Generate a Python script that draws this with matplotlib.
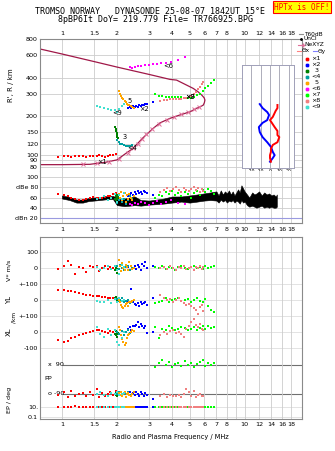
import matplotlib.pyplot as plt
from matplotlib.lines import Line2D
from matplotlib.ticker import NullLocator

# ---------------- data ----------------
freq_ticks = [1, 1.5, 2, 3, 4, 5, 6, 7, 8, 9, 10, 12, 14, 16, 18]
top_labels = ['1', '1.5', '2', '3', '4', '5', '6', '7', '8', '', '10', '12', '14', '16', '18']
mid_labels = ['1', '1.5', '2', '3', '4', '5', '6', '7', '8', '9', '10', '12', '14', '16', '18']

height_ticks = [80, 90, 100, 120, 150, 200, 300, 400, 600, 800]
amp_ticks = [20, 40, 60, 80, 100]
amp_labels = ['dBn 20', '40', '60', 'dBe 80', '100']
noise_db = 20

# model / profile curve (MHz, km)
curve_f = [0.76, 1.0, 1.5, 2.0, 3.0, 3.9, 4.24, 4.7, 5.23, 5.55, 5.82, 6.0, 6.06, 6.02, 5.94,
           5.7, 5.46, 5.02, 4.42, 3.9, 3.44, 3.15, 2.77, 2.45, 2.21, 2.0, 1.72, 1.42, 1.0, 0.76]
curve_h = [668, 611, 533, 483, 423, 387, 382, 355, 329, 310, 292, 278, 267, 255, 244,
           236, 230, 216, 204, 192, 177, 160, 135, 112, 101, 91, 87, 84, 83.5, 83.5]
ne_f = [1.3, 1.55, 1.8, 2.05, 2.3, 2.45, 2.6, 2.75, 2.9, 3.1, 3.4, 3.75, 4.1, 4.5, 4.9, 5.3, 5.6]
ne_h = [85, 86, 88, 92, 103, 112, 122, 133, 146, 158, 172, 186, 197, 206, 215, 226, 236]

# echo groups: frequency, height, amplitude, V*, YL, XL, PP, EP
f1 = [0.95, 1.02, 1.08, 1.12, 1.18, 1.24, 1.3, 1.36, 1.42, 1.48, 1.55, 1.6, 1.66, 1.72, 1.78, 1.84, 1.9, 1.97]
h1 = [96, 97, 98, 96, 97, 98, 97, 96, 97, 98, 97, 99, 97, 96, 98, 99, 100, 102]
a1 = [66, 64, 62, 60, 57, 55, 56, 58, 60, 61, 60, 59, 60, 61, 62, 63, 66, 68]
v1 = [-5, 10, 45, 20, -40, 5, 0, -25, 10, 5, 15, -20, 0, 10, -5, 5, 0, 15]
yl1 = [65, 62, 58, 55, 50, 45, 40, 33, 30, 28, 25, 22, 20, 18, 15, 14, 12, 10]
xl1 = [-50, -62, -55, -40, -30, -20, -10, -5, 0, 5, 10, 12, 5, 0, -5, 5, 0, -10]
pp1 = [-95, -80, -110, -70, -100, -90, -85, -105, -75, -95, -60, -110, -85, -100, -90, -80, -95, -70]
ep1 = [10, 12, 8, 10, 14, 9, 10, 11, 8, 10, 12, 9, 10, 8, 11, 10, 9, 12]

f2 = [2.3, 2.35, 2.4, 2.45, 2.5, 2.55, 2.6, 2.65, 2.7, 2.75, 2.8, 2.85, 2.92, 3.15]
h2 = [232, 236, 230, 238, 235, 240, 236, 242, 238, 245, 244, 248, 250, 258]
a2 = [62, 65, 68, 64, 70, 66, 72, 68, 70, 66, 72, 70, 68, 64]
v2 = [5, -10, 15, 0, 10, -5, 20, 5, -15, 25, 10, 40, 0, 15]
yl2 = [-10, -20, 70, -15, -25, -30, -20, -35, -10, -25, -20, -15, -30, 10]
xl2 = [20, 30, 15, 40, 35, 45, 60, 30, 50, 40, 25, 35, -5, 0]
pp2 = [-90, -80, -100, -85, -95, -75, -90, -100, -80, -90, -105, -85, -95, -120]
ep2 = [10, 9, 11, 10, 12, 10, 9, 11, 10, 8, 10, 12, 10, 9]

f3 = [1.96, 1.97, 1.98, 1.99, 2.0, 2.01, 2.03]
h3 = [165, 158, 152, 147, 142, 138, 134]
a3 = [58, 62, 55, 60, 64, 57, 61]
v3 = [-10, 5, 0, 15, -30, 10, -5]
yl3 = [15, 10, 20, 5, -10, 0, 8]
xl3 = [-10, -20, 5, -15, -30, 0, -5]
pp3 = [-90, -85, -95, -80, -100, -90, -88]
ep3 = [10, 11, 9, 10, 12, 10, 9]

f4 = [2.0, 2.04, 2.08, 2.12, 2.18, 2.24, 2.3, 2.36, 2.42]
h4 = [130, 126, 122, 120, 118, 117, 116, 117, 118]
a4 = [50, 55, 60, 52, 58, 48, 55, 62, 57]
v4 = [10, -5, 20, 0, -15, 5, 10, -10, 0]
yl4 = [5, -5, 0, 10, -15, -5, 0, -20, -10]
xl4 = [0, -10, 10, 5, -20, 0, 15, -5, 10]
pp4 = [-90, -80, -95, -100, -85, -90, -75, -95, -88]
ep4 = [10, 9, 11, 10, 12, 10, 9, 11, 10]

f5 = [2.05, 2.07, 2.1, 2.13, 2.16, 2.2, 2.23, 2.26, 2.3, 2.34, 2.38, 2.43, 2.48]
h5 = [315, 300, 288, 278, 270, 262, 256, 250, 246, 242, 238, 235, 232]
a5 = [66, 60, 70, 55, 62, 68, 52, 64, 58, 66, 60, 55, 62]
v5 = [50, 10, -20, 30, 0, -10, 20, 5, -15, 35, 10, -5, 0]
yl5 = [0, -15, -30, -45, -50, -35, -25, -20, -40, -10, -15, -5, 0]
xl5 = [30, 10, -20, -45, -60, -80, -70, -40, -20, -10, 0, 10, 5]
pp5 = [-85, -95, -75, -100, -90, -80, -110, -90, -85, -95, -100, -90, -80]
ep5 = [10, 11, 9, 10, 12, 10, 8, 10, 11, 9, 10, 12, 10]

f6 = [2.35, 2.42, 2.5, 2.6, 2.72, 2.85, 3.0, 3.15, 3.3, 3.5, 3.7, 3.95, 4.3, 4.7]
h6 = [480, 478, 485, 490, 495, 500, 505, 510, 512, 515, 518, 525, 545, 575]
a6 = [48, 46, 50, 47, 52, 49, 45, 50, 53, 48, 52, 55, 50, 48]

f7 = [3.25, 3.4, 3.55, 3.7, 3.85, 4.0, 4.15, 4.3, 4.5, 4.7, 4.9, 5.1, 5.3, 5.5, 5.7, 5.9, 6.1, 6.3, 6.55, 6.8]
h7 = [300, 288, 285, 284, 283, 282, 281, 280, 280, 278, 277, 278, 282, 290, 300, 315, 330, 345, 365, 385]
a7 = [60, 65, 62, 70, 66, 72, 64, 68, 62, 70, 66, 60, 68, 72, 65, 74, 70, 76, 72, 66]
v7 = [5, 0, 10, -5, 5, 0, -10, 5, 10, 0, -5, 5, 10, 0, 5, -5, 10, 0, 5, 15]
yl7 = [-20, -10, -5, 10, -15, 0, 5, 10, -5, 0, 5, -10, 0, 10, -5, -15, 5, -40, -60, -75]
xl7 = [30, -40, 20, 10, 35, 25, 15, 20, 30, 25, 10, 20, 30, 15, 25, 35, 20, 40, 25, 30]
pp7 = [80, 100, 120, 90, 110, 75, 95, 105, 85, 115, 90, 100, 80, 95, 110, 120, 85, 100, 90, 105]
ep7 = [10, 9, 11, 10, 12, 10, 9, 11, 10, 8, 10, 12, 10, 9, 11, 10, 12, 9, 10, 11]

f8 = [3.45, 3.6, 3.75, 3.9, 4.05, 4.2, 4.35, 4.5, 4.65, 4.8, 4.95, 5.1, 5.25, 5.4, 5.55, 5.7, 5.85, 5.95]
h8 = [262, 266, 268, 270, 272, 272, 273, 274, 275, 276, 280, 288, 298, 310, 325, 340, 355, 370]
a8 = [70, 74, 78, 72, 76, 80, 74, 70, 78, 75, 72, 76, 80, 74, 78, 70, 76, 72]
v8 = [0, 5, -5, 10, 0, -10, 5, 0, 10, -5, 0, 5, -10, 5, 0, 10, -5, 5]
yl8 = [30, 10, 0, 5, -10, 0, 10, -5, -20, -30, -25, -40, -50, -60, -90, -45, -30, -70]
xl8 = [-20, 0, -10, 5, 10, -5, 0, -15, -30, 20, 40, 60, 80, 45, 30, 50, 20, 10]
pp8 = [-100, -90, -110, -95, -105, -100, -95, -110, -90, -60, -80, -100, -70, -110, -95, -90, -105, -100]
ep8 = [10, 9, 8, 10, 9, 10, 11, 9, 10, 8, 10, 9, 10, 11, 9, 10, 8, 10]

f9 = [1.55, 1.62, 1.7, 1.78, 1.86, 1.94, 2.0, 2.06, 2.12, 2.18]
h9 = [240, 236, 230, 226, 224, 222, 216, 228, 238, 248]
a9 = [58, 60, 62, 56, 60, 66, 52, 64, 58, 68]
v9 = [5, -10, 0, 15, -5, 10, -15, -40, 20, 5]
yl9 = [-5, -15, -10, 0, -20, 5, -10, 10, -5, 0]
xl9 = [30, -10, -30, 20, -20, 10, -60, -80, -40, 0]
pp9 = [-90, -80, -95, -100, -85, -90, -75, -95, -90, -85]
ep9 = [10, 11, 9, 10, 12, 10, 9, 10, 11, 10]

# unclassified amplitude trace (black)
blk_f = [1.0, 1.1, 1.2, 1.3, 1.4, 1.5, 1.6, 1.7, 1.8, 1.9,
         2.0, 2.1, 2.2, 2.35, 2.5, 2.7, 3.0, 3.3, 3.6, 4.0,
         4.5, 5.0, 5.5, 6.0, 6.5, 7.0, 7.2, 7.4, 7.6, 7.8,
         8.0, 8.2, 8.4, 8.6, 8.8, 9.0, 9.2, 9.4, 9.6, 9.8,
         10.0, 10.3, 10.6, 11.0, 11.3, 11.6, 12.0, 12.4, 12.8, 13.2,
         13.6, 14.0, 14.4, 14.8, 15.0]
blk_lo = [58, 55, 50, 50, 53, 54, 55, 56, 57, 57,
          45, 44, 43, 44, 45, 44, 46, 47, 48, 50,
          52, 50, 52, 54, 55, 54, 50, 56, 52, 55,
          50, 54, 52, 55, 50, 54, 52, 48, 55, 50,
          52, 45, 42, 44, 42, 40, 42, 44, 40, 42,
          40, 42, 40, 40, 42]
blk_hi = [64, 61, 56, 56, 59, 60, 61, 62, 63, 63,
          60, 56, 58, 60, 62, 55, 54, 56, 58, 62,
          62, 64, 66, 68, 70, 72, 64, 74, 66, 72,
          68, 74, 66, 72, 64, 70, 76, 70, 84, 78,
          72, 66, 60, 70, 66, 68, 72, 64, 70, 66,
          68, 64, 66, 62, 66]

# tilt profiles (deg vs km)
thx_h = [244, 231, 219, 197, 186, 177, 164, 153, 142, 137, 125, 119, 111, 105, 99, 94, 88]
thx = [8, 8, 6, 3, 0, 2, 5, 8, 8, 10, 8, 3, 1, 1, 0, 0, 1]
thy_h = [248, 231, 215, 204, 186, 177, 164, 150, 137, 125, 115, 105, 99, 94, 88]
thy = [-11, -8, -3, -1, -3, -8, -12, -11, -8, -3, 1, 3, 5, 3, 0]

colors = ['#ff0000', '#0000ff', '#008000', '#00a0a0', '#ffa500',
          '#ff00ff', '#00ff00', '#f08080', '#40e0d0']
echo_names = ['\u00d71', '\u00d72', '  3', '<4', '  5', '<6', '\u00d77', '\u00d78', '<9']

# ---------------- figure ----------------
W, H = 335, 451
fig = plt.figure(figsize=(W / 100, H / 100), dpi=100)
plt.rcParams['font.family'] = 'DejaVu Sans'
grid_c = '#cccccc'
frame_c = '#8a8a8a'
fs = 4.6


def box(x0, y0, x1, y1):
    return [x0 / W, 1 - y1 / H, (x1 - x0) / W, (y1 - y0) / H]


def ftext(x, y, s, **kw):
    kw.setdefault('fontsize', fs)
    return fig.text(x / W, 1 - y / H, s, **kw)


def freq_axis(ax, labels):
    ax.set_xscale('log')
    ax.set_xlim(0.758, 20.6)
    ax.set_xticks(freq_ticks)
    ax.set_xticklabels(labels, fontsize=fs)
    ax.xaxis.set_minor_locator(NullLocator())
    ax.tick_params(length=0)
    ax.grid(True, axis='x', color=grid_c, lw=0.6)
    ax.set_axisbelow(True)
    for s in ax.spines.values():
        s.set_color(frame_c)
        s.set_linewidth(0.8)


def lin_lim(v0, r0, v1, r1, top=237, bot=419):
    k = (v1 - v0) / (r1 - r0)
    return v0 + (bot - r0) * k, v0 + (top - r0) * k


# --- heights panel ---
ax_h = fig.add_axes(box(40, 39, 302, 171))
freq_axis(ax_h, top_labels)
ax_h.xaxis.tick_top()
ax_h.tick_params(axis='x', pad=2)
ax_h.set_yscale('log')
ax_h.set_ylim(74.5, 800)
ax_h.set_yticks(height_ticks)
ax_h.set_yticklabels([str(t) for t in height_ticks], fontsize=fs)
ax_h.yaxis.set_minor_locator(NullLocator())
ax_h.tick_params(axis='y', pad=1.5)
ax_h.grid(True, axis='y', color=grid_c, lw=0.6)
ax_h.spines['bottom'].set_visible(False)

ax_h.plot(curve_f, curve_h, color='#a01848', lw=0.9)
ax_h.plot(ne_f, ne_h, ls='none', marker='x', ms=2.2, mew=0.7, color='#e0709a')

groups_h = [(f1, h1), (f2, h2), (f3, h3), (f4, h4), (f5, h5), (f6, h6), (f7, h7), (f8, h8), (f9, h9)]
for (f, h), c in zip(groups_h, colors):
    ax_h.scatter(f, h, s=4, marker='s', color=c, linewidths=0, zorder=3)

lab_f = [1.65, 2.8, 2.2, 2.42, 2.33, 3.8, 5.0, 5.05, 2.0]
lab_h = [88, 229, 137, 112, 262, 490, 282, 282, 212]
for lf, lh, name in zip(lab_f, lab_h, echo_names):
    ax_h.text(lf, lh, name.strip(), fontsize=4.8, ha='center', va='center', zorder=4)

ftext(11, 85, "R', R / km", rotation=90, ha='center', va='center', fontsize=5)

# --- tilt inset ---
ax_t = fig.add_axes(box(242, 65, 294, 168))
ax_t.set_facecolor('white')
ax_t.set_xlim(-30.1, 25.8)
ax_t.set_yscale('log')
ax_t.set_ylim(78.6, 501)
ax_t.set_yticks([])
ax_t.yaxis.set_minor_locator(NullLocator())
ax_t.set_xticks([-20, -10, 0, 10, 20])
ax_t.set_xticklabels(['-20', '-10', '0', '10', '20'], fontsize=3.3)
ax_t.tick_params(length=0, pad=1)
ax_t.grid(True, axis='x', color='#a0a0b0', lw=0.6)
for s in ax_t.spines.values():
    s.set_color('#a0a0b8')
    s.set_linewidth(0.7)
ax_t.plot(thy, thy_h, color='#0000ff', lw=1.4)
ax_t.plot(thx, thx_h, color='#ff0000', lw=1.4)
ax_t.set_xlabel('Tilt / deg', fontsize=3.5, labelpad=0)

# --- amplitude panel ---
ax_a = fig.add_axes(box(40, 171, 302, 223))
freq_axis(ax_a, mid_labels)
ax_a.tick_params(axis='x', pad=3)
ax_a.set_ylim(10, 112)
ax_a.set_yticks(amp_ticks)
ax_a.set_yticklabels(amp_labels, fontsize=fs)
ax_a.tick_params(axis='y', pad=1.5)
ax_a.grid(True, axis='y', color=grid_c, lw=0.6)
ax_a.spines['top'].set_visible(False)
ax_a.axhline(noise_db, color='#9a9ae0', lw=0.8)
ax_a.fill_between(blk_f, blk_lo, blk_hi, color='black', lw=0.4)
groups_a = [(f1, a1), (f2, a2), (f3, a3), (f4, a4), (f5, a5), (f6, a6), (f7, a7), (f8, a8), (f9, a9)]
for (f, a), c in zip(groups_a, colors):
    ax_a.scatter(f, a, s=4, marker='s', color=c, linewidths=0, zorder=3)

# --- lower panel (V*, YL, XL, PP, EP) ---
ax_b = fig.add_axes(box(40, 237, 302, 419))
freq_axis(ax_b, top_labels)
ax_b.tick_params(axis='x', pad=2)
ax_b.set_ylim(419, 237)
rows = [252, 268, 284, 300, 316, 332, 348, 407, 417]
row_labels = ['100', '0', '+-100', '0', '+-100', '0', '-100', '10.', '0.1']
ax_b.set_yticks(rows)
ax_b.set_yticklabels(row_labels, fontsize=fs)
ax_b.tick_params(axis='y', pad=1.5)
for r in rows:
    ax_b.axhline(r, color='#dedede', lw=0.6, zorder=0)
pp_rows = [365, 394]
ax_b.hlines(pp_rows, 1.0, 20.6, color='#707070', lw=0.8, zorder=0)
ax_b.text(0.84, 365, 'x  90', fontsize=fs, va='center', ha='left')
ax_b.text(0.84, 394, 'o -90', fontsize=fs, va='center', ha='left')
ax_b.text(0.8, 379, 'PP', fontsize=fs, va='center', ha='left')


def overlay(lim, log=False):
    o = fig.add_axes(ax_b.get_position(), sharex=ax_b)
    o.axis('off')
    if log:
        o.set_yscale('log')
    o.set_ylim(*lim)
    return o


ax_v = overlay(lin_lim(0, 268, 100, 252))
ax_yl = overlay(lin_lim(0, 300, 100, 284))
ax_xl = overlay(lin_lim(0, 332, 100, 316))
ax_pp = overlay(lin_lim(90, 365, -90, 394))
ax_ep = overlay((10 ** (1 - 12 / 5), 10 ** (1 + 170 / 5)), log=True)

lower = [(f1, v1, yl1, xl1, pp1, ep1, colors[0]),
         (f2, v2, yl2, xl2, pp2, ep2, colors[1]),
         (f3, v3, yl3, xl3, pp3, ep3, colors[2]),
         (f4, v4, yl4, xl4, pp4, ep4, colors[3]),
         (f5, v5, yl5, xl5, pp5, ep5, colors[4]),
         (f7, v7, yl7, xl7, pp7, ep7, colors[6]),
         (f8, v8, yl8, xl8, pp8, ep8, colors[7]),
         (f9, v9, yl9, xl9, pp9, ep9, colors[8])]
for f, v, yl, xl, pp, ep, c in lower:
    for ax, vals in ((ax_v, v), (ax_yl, yl), (ax_xl, xl), (ax_pp, pp), (ax_ep, ep)):
        ax.scatter(f, vals, s=4, marker='s', color=c, linewidths=0)

ftext(9, 270, 'V* m/s', rotation=90, ha='center', va='center', fontsize=4.6)
ftext(9, 300, 'YL', rotation=90, ha='center', va='center', fontsize=5)
ftext(14, 317, '/km', rotation=90, ha='center', va='center', fontsize=4.2)
ftext(9, 332, 'XL', rotation=90, ha='center', va='center', fontsize=5)
ftext(9, 400, 'EP / deg', rotation=90, ha='center', va='center', fontsize=4.6)
ftext(170, 437, 'Radio and Plasma Frequency / MHz', ha='center', va='center', fontsize=4.8)

# --- titles ---
ftext(150, 12, 'TROMSO NORWAY   DYNASONDE 25-08-07 1842UT 15\u00b0E',
      ha='center', va='center', family='DejaVu Sans Mono', fontsize=6)
ftext(155, 20, '8pBP6It DoY= 219.779 File= TR766925.BPG',
      ha='center', va='center', family='DejaVu Sans Mono', fontsize=6)
ftext(302, 7, 'HPTx is OFF!', ha='center', va='center', color='red',
      family='DejaVu Sans Mono', fontsize=5.5,
      bbox=dict(boxstyle='square,pad=0.15', fc='#ffff00', ec='red', lw=0.8))


# --- legend on the right ---
def fline(x0, x1, y, **kw):
    fig.add_artist(Line2D([x0 / W, x1 / W], [1 - y / H, 1 - y / H], transform=fig.transFigure, **kw))


fline(299, 303, 34, color='#909090', lw=0.8)
ftext(304, 34, 'T60dB', va='center', fontsize=4.2)
fline(301, 301, 39, color='black', marker='.', ms=1.5, ls='none')
ftext(304, 39, 'UnCl', va='center', fontsize=4.2)
fline(298, 303, 45, color='#e0709a', lw=0.8, marker='+', markevery=[1], ms=3)
ftext(304, 45, 'NeXYZ', va='center', fontsize=4.2)
fline(297, 301, 51, color='#ff8080', lw=0.8)
ftext(302, 51, '\u0398x', va='center', fontsize=4.2)
fline(313, 317, 51, color='#8080ff', lw=0.8)
ftext(318, 51, '\u0398y', va='center', fontsize=4.2)
for i, (c, name) in enumerate(zip(colors, echo_names)):
    y = 59 + 6 * i
    fline(307, 307, y, color=c, marker='s', ms=2, ls='none')
    ftext(311, y, name, va='center', fontsize=4.6)

fig.savefig('out.png', dpi=100)
